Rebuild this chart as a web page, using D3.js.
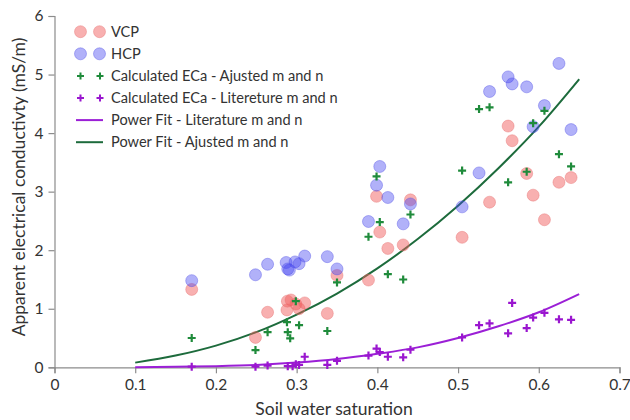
<!DOCTYPE html>
<html><head><meta charset="utf-8">
<script src="https://cdn.jsdelivr.net/npm/d3@7"></script>
<style>body{margin:0;background:#fff}svg{display:block}text{font-family:Lato,"Open Sans",sans-serif;fill:#333}</style>
</head><body><svg id="c" width="630" height="420"></svg>
<script>
// Data
const vcpX = [0.170,0.249,0.264,0.288,0.2885,0.293,0.299,0.303,0.310,0.338,0.350,0.389,0.399,0.403,0.413,0.432,0.441,0.505,0.539,0.562,0.567,0.585,0.593,0.607,0.625,0.640];
const vcpY = [1.33,0.51,0.94,0.98,1.13,1.15,1.08,1.00,1.10,0.92,1.57,1.49,2.92,2.31,2.03,2.09,2.86,2.22,2.82,4.12,3.87,3.31,2.94,2.52,3.16,3.24];
const hcpX = [0.170,0.249,0.264,0.287,0.289,0.291,0.298,0.303,0.310,0.338,0.350,0.389,0.399,0.403,0.413,0.432,0.441,0.505,0.526,0.539,0.562,0.567,0.585,0.593,0.607,0.625,0.640];
const hcpY = [1.48,1.58,1.76,1.79,1.68,1.66,1.80,1.77,1.90,1.89,1.68,2.49,3.11,3.43,2.90,2.45,2.79,2.74,3.32,4.71,4.96,4.84,4.79,4.11,4.47,5.19,4.06];
const adjX = [0.170,0.249,0.264,0.288,0.289,0.292,0.299,0.303,0.338,0.350,0.389,0.399,0.403,0.413,0.432,0.441,0.505,0.526,0.539,0.562,0.585,0.593,0.607,0.625,0.640];
const adjY = [0.50,0.295,0.60,0.77,0.60,0.495,1.13,0.72,0.62,1.45,2.23,3.26,2.48,1.59,1.50,2.61,3.36,4.41,4.44,3.16,3.34,4.17,4.38,3.64,3.43];
const litX = [0.170,0.249,0.264,0.289,0.295,0.299,0.303,0.310,0.338,0.350,0.389,0.399,0.403,0.413,0.432,0.441,0.505,0.526,0.539,0.562,0.567,0.585,0.593,0.607,0.625,0.640];
const litY = [0.01,0.01,0.03,0.02,0.02,0.05,0.04,0.18,0.04,0.11,0.20,0.32,0.26,0.18,0.17,0.30,0.51,0.72,0.75,0.58,1.10,0.67,0.85,0.93,0.82,0.81];
const fitX = [0.10,0.15,0.20,0.25,0.30,0.35,0.40,0.45,0.50,0.55,0.60,0.65];
const fitAdjY = [0.08,0.20,0.37,0.60,0.90,1.26,1.69,2.19,2.76,3.40,4.11,4.92];
const fitLitY = [0.00,0.01,0.02,0.04,0.08,0.14,0.23,0.34,0.50,0.70,0.94,1.25];
const xTicks = [0,0.1,0.2,0.3,0.4,0.5,0.6,0.7];
const yTicks = [0,1,2,3,4,5,6];
const legendLabels = ["VCP","HCP","Calculated ECa - Ajusted m and n","Calculated ECa - Litereture m and n","Power Fit - Literature m and n","Power Fit - Ajusted m and n"];

const C = {vcp:"rgba(240,90,90,0.48)", vcpS:"rgba(230,110,110,0.5)", hcp:"rgba(70,70,240,0.42)", hcpS:"rgba(80,80,230,0.5)", adj:"#1f8b3b", lit:"#9a16cf", adjLine:"#1d6b3c", litLine:"#9b1fd6", axis:"#8c8c8c"};

const svg = d3.select("#c");
const x = d3.scaleLinear().domain([0,0.7]).range([54.5,619.5]);
const y = d3.scaleLinear().domain([0,6]).range([367.3,16]);

const xa = svg.append("g").attr("transform","translate(0,367.3)")
  .call(d3.axisBottom(x).tickValues(xTicks).tickFormat(d=>d===0?"0":d3.format(".1f")(d)).tickSize(6).tickPadding(6));
const ya = svg.append("g").attr("transform","translate(54.5,0)")
  .call(d3.axisLeft(y).tickValues(yTicks).tickFormat(d3.format("d")).tickSize(6).tickPadding(5));
[xa,ya].forEach(g=>{g.select(".domain").attr("stroke",C.axis).attr("stroke-width",1.2);
  g.selectAll(".tick line").attr("stroke",C.axis).attr("stroke-width",1.2);
  g.selectAll(".tick text").attr("font-size",15.5).attr("fill","#333").style("font-family","Lato");});

svg.append("text").attr("x",334).attr("y",415).attr("text-anchor","middle").attr("font-size",17.5).text("Soil water saturation");
svg.append("text").attr("transform","translate(25,187) rotate(-90)").attr("text-anchor","middle").attr("font-size",17.5).text("Apparent electrical conductivty (mS/m)");

const line = d3.line().x(d=>x(d[0])).y(d=>y(d[1])).curve(d3.curveMonotoneX);
svg.append("path").datum(fitX.map((v,i)=>[v,fitLitY[i]])).attr("d",line).attr("fill","none").attr("stroke",C.litLine).attr("stroke-width",2);
svg.append("path").datum(fitX.map((v,i)=>[v,fitAdjY[i]])).attr("d",line).attr("fill","none").attr("stroke",C.adjLine).attr("stroke-width",2);

function circles(xs,ys,fill,stroke){
  svg.append("g").selectAll("circle").data(xs.map((v,i)=>[v,ys[i]])).join("circle")
    .attr("cx",d=>x(d[0])).attr("cy",d=>y(d[1])).attr("r",6).attr("fill",fill).attr("stroke",stroke).attr("stroke-width",0.8);
}
function crosses(xs,ys,color){
  svg.append("g").selectAll("path").data(xs.map((v,i)=>[v,ys[i]])).join("path")
    .attr("d","M-4,0H4M0,-4V4").attr("transform",d=>`translate(${x(d[0])},${y(d[1])})`)
    .attr("stroke",color).attr("stroke-width",2.2).attr("fill","none");
}
circles(vcpX,vcpY,C.vcp,C.vcpS);
circles(hcpX,hcpY,C.hcp,C.hcpS);
crosses(adjX,adjY,C.adj);
crosses(litX,litY,C.lit);

// legend
const lg = svg.append("g");
const rowY = i=>31.7+i*22.1;
legendLabels.forEach((t,i)=>{
  const yy = rowY(i);
  if(i<2){[80.5,99.5].forEach(cx=>lg.append("circle").attr("cx",cx).attr("cy",yy).attr("r",6)
      .attr("fill",i===0?C.vcp:C.hcp).attr("stroke",i===0?C.vcpS:C.hcpS).attr("stroke-width",0.8));}
  else if(i<4){[80.5,100].forEach(cx=>lg.append("path").attr("d","M-3.5,0H3.5M0,-3.5V3.5")
      .attr("transform",`translate(${cx},${yy})`).attr("stroke",i===2?C.adj:C.lit).attr("stroke-width",2).attr("fill","none"));}
  else {lg.append("line").attr("x1",76).attr("x2",103).attr("y1",yy).attr("y2",yy)
      .attr("stroke",i===4?C.litLine:C.adjLine).attr("stroke-width",2);}
  lg.append("text").attr("x",111).attr("y",yy).attr("dy","0.35em").attr("font-size",14.6).text(t);
});
</script></body></html>
